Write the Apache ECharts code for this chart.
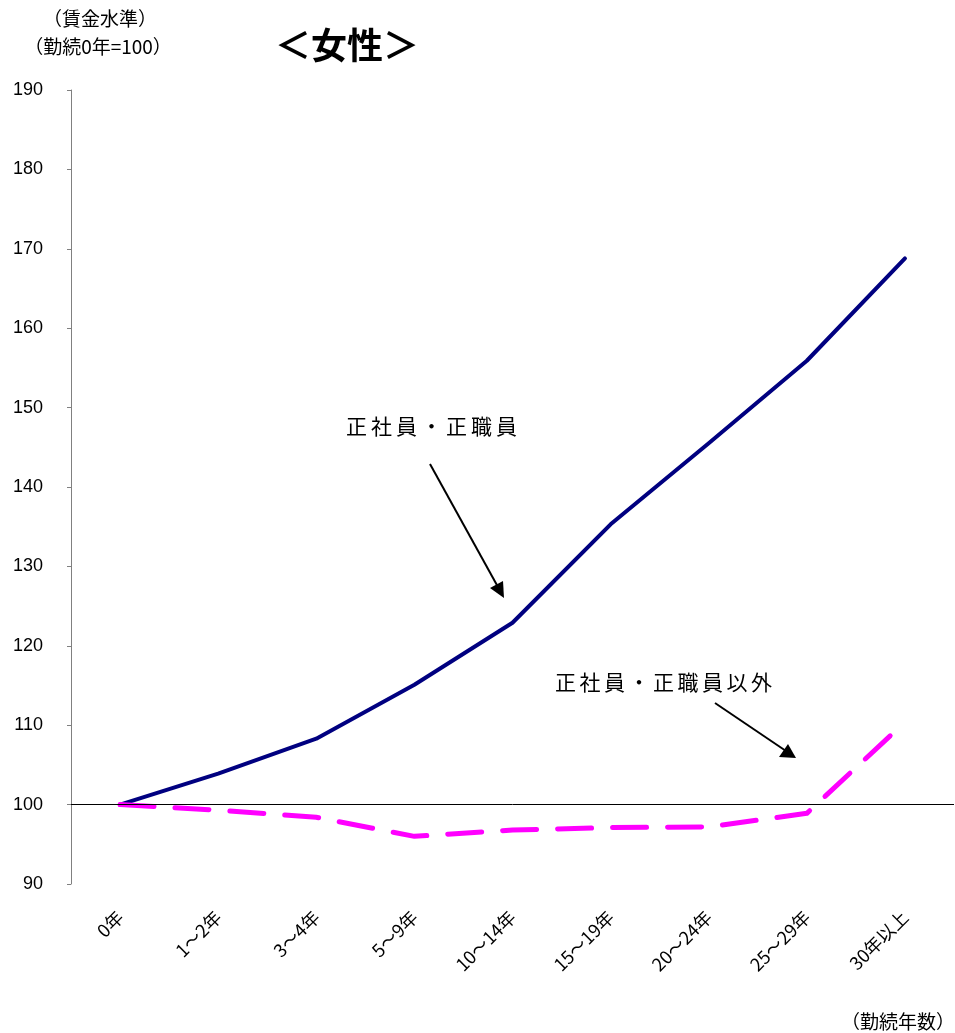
<!DOCTYPE html>
<html>
<head>
<meta charset="utf-8">
<script src="https://cdn.jsdelivr.net/npm/echarts@6/dist/echarts.min.js"></script>
<style>
  html, body { margin: 0; padding: 0; background: #fff; }
  #chart { width: 955px; height: 1033px; }
</style>
</head>
<body>
<div id="chart"></div>
<script>
// 勤続年数別の賃金水準（勤続0年=100）、女性
const categories = ['0年', '1～2年', '3～4年', '5～9年', '10～14年', '15～19年', '20～24年', '25～29年', '30年以上'];
const regular = [100, 103.9, 108.3, 115.1, 122.9, 135.3, 145.5, 155.9, 168.8];
const nonRegular = [100, 99.3, 98.4, 96.0, 96.8, 97.1, 97.2, 98.9, 110.4];
const yTicks = { min: 90, max: 190, interval: 10 };

const JP = '"Noto Sans CJK JP", "Noto Sans", sans-serif';
const NUM = '"Liberation Sans", Arial, sans-serif';

// spaced-out callout label, one glyph per text element
function spacedText(str, x, y, size, pitch) {
  return Array.from(str).map((ch, i) => ({
    type: 'text',
    x: x + i * pitch,
    y: y,
    style: { text: ch, font: size + 'px ' + JP, fill: '#000', textVerticalAlign: 'middle' }
  }));
}

const chart = echarts.init(document.getElementById('chart'), null, { renderer: 'canvas' });

chart.setOption({
  animation: false,
  backgroundColor: '#ffffff',
  grid: { left: 71, right: 1, top: 90, bottom: 149, containLabel: false },
  xAxis: {
    type: 'category',
    data: categories,
    boundaryGap: true,
    axisLine: { show: false },
    axisTick: { show: false },
    axisLabel: {
      rotate: 45,
      margin: 30,
      interval: 0,
      fontFamily: JP,
      fontSize: 18,
      color: '#000'
    },
    splitLine: { show: false }
  },
  yAxis: {
    type: 'value',
    min: yTicks.min,
    max: yTicks.max,
    interval: yTicks.interval,
    axisLine: { show: true, lineStyle: { color: '#808080', width: 1 } },
    axisTick: { show: true, length: 4, lineStyle: { color: '#808080' } },
    axisLabel: { margin: 28, fontFamily: NUM, fontSize: 18, color: '#000' },
    splitLine: { show: false }
  },
  series: [
    {
      name: '正社員・正職員',
      type: 'line',
      data: regular,
      symbol: 'none',
      z: 3,
      lineStyle: { color: '#000080', width: 4, cap: 'round', join: 'round' },
      markLine: {
        silent: true,
        symbol: ['none', 'none'],
        label: { show: false },
        lineStyle: { color: '#000', width: 1, type: 'solid' },
        data: [{ yAxis: 100 }]
      }
    },
    {
      name: '正社員・正職員以外',
      type: 'line',
      data: nonRegular,
      symbol: 'none',
      z: 4,
      lineStyle: { color: '#ff00ff', width: 5, type: [34, 21], cap: 'round', join: 'round' }
    }
  ],
  graphic: [
    { type: 'text', x: 347, y: 45, style: { text: '＜女性＞', font: 'bold 36px ' + JP, fill: '#000', textAlign: 'center', textVerticalAlign: 'middle' } },
    { type: 'text', x: 100, y: 19, style: { text: '（賃金水準）', font: '19px ' + JP, fill: '#000', textAlign: 'center', textVerticalAlign: 'middle' } },
    { type: 'text', x: 98, y: 47, style: { text: '（勤続0年=100）', font: '19px ' + JP, fill: '#000', textAlign: 'center', textVerticalAlign: 'middle' } },
    { type: 'text', x: 955, y: 1022, style: { text: '（勤続年数）', font: '19px ' + JP, fill: '#000', textAlign: 'right', textVerticalAlign: 'middle' } },
    ...spacedText('正社員・正職員', 346, 426, 21, 25),
    ...spacedText('正社員・正職員以外', 555, 682, 21, 24.5),
    { type: 'line', shape: { x1: 430, y1: 464, x2: 498, y2: 587 }, style: { stroke: '#000', lineWidth: 2 } },
    { type: 'polygon', shape: { points: [[504, 598], [490, 588], [503, 581]] }, style: { fill: '#000' } },
    { type: 'line', shape: { x1: 715, y1: 703, x2: 786, y2: 751 }, style: { stroke: '#000', lineWidth: 2 } },
    { type: 'polygon', shape: { points: [[796, 758], [779, 757], [788, 744]] }, style: { fill: '#000' } }
  ]
});
</script>
</body>
</html>
